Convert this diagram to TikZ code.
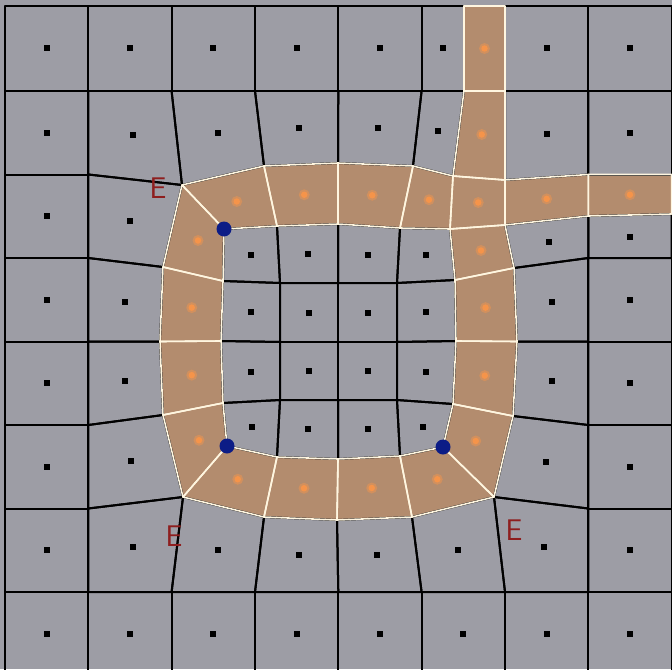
\documentclass[tikz,border=0pt]{standalone}
\usepackage{tikz}
\usetikzlibrary{calc}
\definecolor{cellgray}{HTML}{9D9DA5}
\definecolor{bandfill}{HTML}{B38C6E}
\definecolor{bandline}{HTML}{FFF6E0}
\definecolor{seed}{HTML}{F5944A}
\definecolor{polecol}{HTML}{0C1C86}
\definecolor{ecol}{HTML}{8E1E1E}
\tikzset{
  grayedge/.style = {draw=black, line width=0.04cm, line join=round},
  bandedge/.style = {draw=bandline, line width=0.032cm, line join=round},
  graydot/.style  = {fill=black},
  polenode/.style = {circle, fill=polecol, minimum size=0.3cm, inner sep=0pt},
  elabel/.style   = {text=ecol, font=\sffamily\fontsize{17}{17}\selectfont, inner sep=0pt},
}

\begin{document}
\begin{tikzpicture}[x=0.02cm, y=-0.02cm]
  \useasboundingbox (0,0) rectangle (672,669);
  \clip (0,0) rectangle (672,669);
  \fill[cellgray] (0,0) rectangle (672,669);

  % regular outer grid
  \foreach \x [count=\i from 0] in {5,88.3,171.6,255,338.3,421.6,505,588.3,671.6}
    \foreach \y [count=\j from 0] in {6,91,174.5,258,341.5,425,508.5,592,675.5}
      \coordinate (g\i\j) at (\x,\y);

  % band outer rim
  \coordinate (E1) at (182,185);
  \coordinate (t1) at (264,166);  \coordinate (t2) at (338,163);
  \coordinate (t3) at (413,166);  \coordinate (t4) at (453,176);
  \coordinate (t5) at (505,180);
  \coordinate (v0) at (464,6);    \coordinate (v1) at (464,91);
  \coordinate (rb1) at (588.3,216); \coordinate (rb2) at (671.6,214);
  \coordinate (r0) at (505,225);  \coordinate (r1) at (514,268);
  \coordinate (r2) at (517,341.5); \coordinate (r3) at (513,416);
  \coordinate (E3) at (494,497);
  \coordinate (b3) at (412,517);  \coordinate (b2) at (337,520);
  \coordinate (b1) at (264,517);  \coordinate (E2) at (183,497);
  \coordinate (l3) at (163,415);  \coordinate (l2) at (160,341.5);
  \coordinate (l1) at (163,267);

  % inner grid
  \coordinate (n00) at (224,229); \coordinate (n10) at (277,226); \coordinate (n20) at (338,224);
  \coordinate (n30) at (400,228); \coordinate (n40) at (450,229);
  \coordinate (n01) at (223,281); \coordinate (n11) at (280,283); \coordinate (n21) at (338,283);
  \coordinate (n31) at (397,283); \coordinate (n41) at (455,280);
  \coordinate (n02) at (221,341); \coordinate (n12) at (280,342); \coordinate (n22) at (338,342);
  \coordinate (n32) at (397,342); \coordinate (n42) at (456,341);
  \coordinate (n03) at (223,403); \coordinate (n13) at (280,400); \coordinate (n23) at (338,400);
  \coordinate (n33) at (397,400); \coordinate (n43) at (453,404);
  \coordinate (n04) at (227,446); \coordinate (n14) at (277,457); \coordinate (n24) at (338,459);
  \coordinate (n34) at (400,456); \coordinate (n44) at (443,447);

  % band cells
  \foreach \a/\b/\c/\d in {E1/t1/n10/n00, t1/t2/n20/n10, t2/t3/n30/n20, t3/t4/n40/n30, t4/t5/r0/n40,
      v1/g61/t5/t4, v0/g60/g61/v1, t5/g72/rb1/r0, g72/g82/rb2/rb1,
      n40/r0/r1/n41, n41/r1/r2/n42, n42/r2/r3/n43, n43/r3/E3/n44,
      n34/n44/E3/b3, n24/n34/b3/b2, n14/n24/b2/b1, n04/n14/b1/E2,
      l3/n03/n04/E2, l2/n02/n03/l3, l1/n01/n02/l2, E1/n00/n01/l1}
    \fill[bandfill] (\a) -- (\b) -- (\c) -- (\d) -- cycle;

  % gray cells
  \foreach \a/\b/\c/\d in {g00/g10/g11/g01, g10/g20/g21/g11, g20/g30/g31/g21, g30/g40/g41/g31,
      g40/g50/g51/g41, g50/v0/v1/g51, g60/g70/g71/g61, g70/g80/g81/g71,
      g01/g11/g12/g02, g11/g21/E1/g12, g21/g31/t1/E1, g31/g41/t2/t1, g41/g51/t3/t2,
      g51/v1/t4/t3, g61/g71/g72/t5, g71/g81/g82/g72,
      g02/g12/g13/g03, g12/E1/l1/g13, r0/rb1/g73/r1, rb1/rb2/g83/g73,
      g03/g13/g14/g04, g13/l1/l2/g14, r1/g73/g74/r2, g73/g83/g84/g74,
      g04/g14/g15/g05, g14/l2/l3/g15, r2/g74/g75/r3, g74/g84/g85/g75,
      g05/g15/g16/g06, g15/l3/E2/g16, r3/g75/g76/E3, g75/g85/g86/g76,
      g06/g16/g17/g07, g16/E2/g27/g17, E2/b1/g37/g27, b1/b2/g47/g37, b2/b3/g57/g47,
      b3/E3/g67/g57, E3/g76/g77/g67, g76/g86/g87/g77,
      g07/g17/g18/g08, g17/g27/g28/g18, g27/g37/g38/g28, g37/g47/g48/g38,
      g47/g57/g58/g48, g57/g67/g68/g58, g67/g77/g78/g68, g77/g87/g88/g78,
      n00/n10/n11/n01, n10/n20/n21/n11, n20/n30/n31/n21, n30/n40/n41/n31,
      n01/n11/n12/n02, n11/n21/n22/n12, n21/n31/n32/n22, n31/n41/n42/n32,
      n02/n12/n13/n03, n12/n22/n23/n13, n22/n32/n33/n23, n32/n42/n43/n33,
      n03/n13/n14/n04, n13/n23/n24/n14, n23/n33/n34/n24, n33/n43/n44/n34} {
    \draw[grayedge] (\a) -- (\b) -- (\c) -- (\d) -- cycle;
    \fill[graydot] ($0.25*(\a)+0.25*(\b)+0.25*(\c)+0.25*(\d)$) +(-3,-3) rectangle +(3,3);
  }

  % band outlines and seeds
  \foreach \a/\b/\c/\d in {E1/t1/n10/n00, t1/t2/n20/n10, t2/t3/n30/n20, t3/t4/n40/n30, t4/t5/r0/n40,
      v1/g61/t5/t4, v0/g60/g61/v1, t5/g72/rb1/r0, g72/g82/rb2/rb1,
      n40/r0/r1/n41, n41/r1/r2/n42, n42/r2/r3/n43, n43/r3/E3/n44,
      n34/n44/E3/b3, n24/n34/b3/b2, n14/n24/b2/b1, n04/n14/b1/E2,
      l3/n03/n04/E2, l2/n02/n03/l3, l1/n01/n02/l2, E1/n00/n01/l1} {
    \draw[bandedge] (\a) -- (\b) -- (\c) -- (\d) -- cycle;
    \fill[seed!45!bandfill] ($0.25*(\a)+0.25*(\b)+0.25*(\c)+0.25*(\d)$) circle (0.11cm);
    \fill[seed] ($0.25*(\a)+0.25*(\b)+0.25*(\c)+0.25*(\d)$) circle (0.065cm);
  }

  % poles and labels
  \node[polenode] (p1) at (n00) {};
  \node[polenode] (p2) at (n04) {};
  \node[polenode] (p3) at (n44) {};
  \node[elabel] (e1) at (158,188) {E};
  \node[elabel] (e2) at (174,536) {E};
  \node[elabel] (e3) at (514,530) {E};
\end{tikzpicture}
\end{document}
